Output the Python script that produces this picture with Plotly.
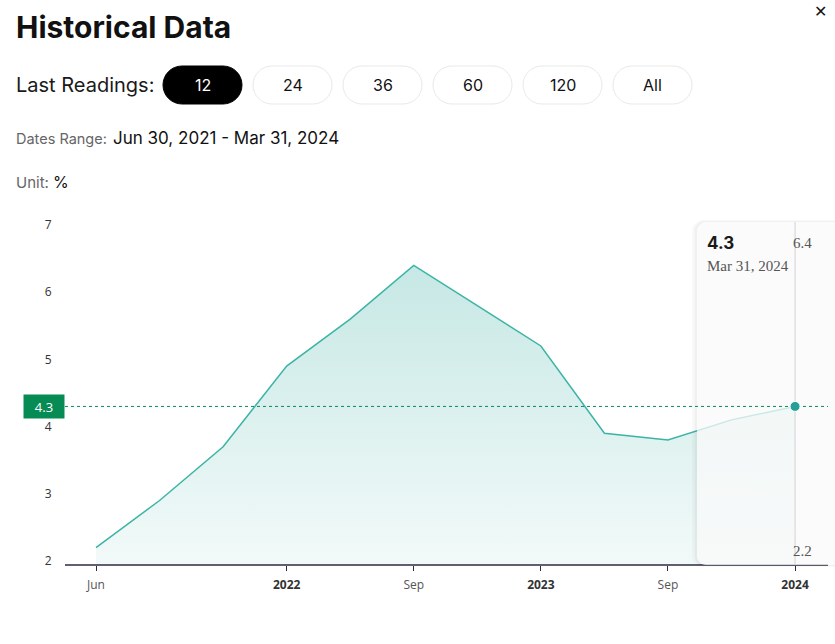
import plotly.graph_objects as go

# ---------------- data ----------------
dates = ["2021-06-30", "2021-09-30", "2021-12-31", "2022-03-31", "2022-06-30", "2022-09-30",
         "2022-12-31", "2023-03-31", "2023-06-30", "2023-09-30", "2023-12-31", "2024-03-31"]
values = [2.2, 2.9, 3.7, 4.9, 5.6, 6.4, 5.8, 5.2, 3.9, 3.8, 4.1, 4.3]
tick_idx = [0, 3, 5, 7, 9, 11]
tick_text = ["Jun", "2022", "Sep", "2023", "Sep", "2024"]
y_ticks = [2, 3, 4, 5, 6, 7]
readings = ["12", "24", "36", "60", "120", "All"]

x = list(range(len(dates)))
last_x, last_y = x[-1], values[-1]

W, H = 835, 644
L, R, T, B = 65, 835, 222, 565


def px(v):
    return (v - L) / (R - L)


def py(v):
    return (B - v) / (B - T)


def rr(x0, y0, x1, y1, r):
    k = 0.5523 * r

    def p(a, b):
        return f"{px(a):.5f},{py(b):.5f}"
    return (f"M{p(x0 + r, y0)} L{p(x1 - r, y0)} "
            f"C{p(x1 - r + k, y0)} {p(x1, y0 + r - k)} {p(x1, y0 + r)} "
            f"L{p(x1, y1 - r)} C{p(x1, y1 - r + k)} {p(x1 - r + k, y1)} {p(x1 - r, y1)} "
            f"L{p(x0 + r, y1)} C{p(x0 + r - k, y1)} {p(x0, y1 - r + k)} {p(x0, y1 - r)} "
            f"L{p(x0, y0 + r)} C{p(x0, y0 + r - k)} {p(x0 + r - k, y0)} {p(x0 + r, y0)} Z")


LINE = "rgb(60,180,165)"
GREEN = "#078b55"
DARK = "#2b2b40"

fig = go.Figure()
fig.add_trace(go.Scatter(
    x=x, y=values, mode="lines",
    line=dict(color=LINE, width=1.5),
    fill="tozeroy",
    fillgradient=dict(type="vertical", start=1.94, stop=max(values),
                      colorscale=[[0, "rgba(38,166,154,0.06)"], [1, "rgba(38,166,154,0.26)"]]),
    hoverinfo="skip", showlegend=False,
))

tick_labels = []
for t in tick_text:
    if t.isdigit():
        tick_labels.append(f"<b><span style='color:#333'>{t}</span></b>")
    else:
        tick_labels.append(f"<span style='color:#555'>{t}</span>")

x0r = -(96 - L) / 63.55
x1r = (R - 96) / 63.55
fig.update_xaxes(
    range=[x0r, x1r], tickvals=tick_idx, ticktext=tick_labels,
    showgrid=False, zeroline=False, showline=False,
    ticks="outside", ticklen=5, tickwidth=1, tickcolor=DARK,
    tickfont=dict(family="Open Sans", size=12, color="#444"),
    ticklabelstandoff=4,
)
fig.update_yaxes(
    range=[1.94, 7.045], tickvals=y_ticks,
    showgrid=False, zeroline=False, showline=False,
    ticks="outside", ticklen=10, tickcolor="rgba(0,0,0,0)",
    tickfont=dict(family="Open Sans", size=12, color="#333"),
)

shapes = []
# x axis line
shapes.append(dict(type="line", xref="paper", yref="paper", x0=0, x1=px(828), y0=0, y1=0,
                   line=dict(color=DARK, width=1.5), layer="above"))
# tooltip box with soft shadow
shapes.append(dict(type="path", xref="paper", yref="paper", path=rr(692, 220, 860, 567, 11),
                   fillcolor="rgba(0,0,0,0.025)", line=dict(width=0), layer="above"))
shapes.append(dict(type="path", xref="paper", yref="paper", path=rr(694.5, 221, 860, 566, 10),
                   fillcolor="rgba(0,0,0,0.035)", line=dict(width=0), layer="above"))
shapes.append(dict(type="path", xref="paper", yref="paper", path=rr(697, 222, 860, 565, 9),
                   fillcolor="rgba(255,255,255,0.74)", line=dict(width=0), layer="above"))
# crosshair
shapes.append(dict(type="line", xref="x", yref="paper", x0=last_x, x1=last_x, y0=0, y1=1,
                   line=dict(color="#d2d2d2", width=1), layer="above"))
# dotted current-value line
shapes.append(dict(type="line", xref="paper", yref="y", x0=0, x1=px(828), y0=last_y, y1=last_y,
                   line=dict(color=GREEN, width=1, dash="dot"), layer="above"))
# dot
shapes.append(dict(type="circle", xref="x", yref="y", xsizemode="pixel", ysizemode="pixel",
                   xanchor=last_x, yanchor=last_y, x0=-5, x1=5, y0=-5, y1=5,
                   fillcolor="rgb(38,160,150)", line=dict(color="white", width=1), layer="above"))

# buttons
for i, lab in enumerate(readings):
    bx0 = 163 + 90 * i
    sel = i == 0
    shapes.append(dict(type="path", xref="paper", yref="paper", path=rr(bx0, 66, bx0 + 79, 104, 19),
                       fillcolor="black" if sel else "white",
                       line=dict(color="black" if sel else "#e9e9e9", width=1), layer="above"))

annotations = []


def txt(t, x_, y_, size, color="#111", family="Inter", anchor="left", bold=False):
    if bold:
        t = f"<b>{t}</b>"
    annotations.append(dict(text=t, xref="paper", yref="paper", x=px(x_), y=py(y_),
                            xanchor=anchor, yanchor="middle", showarrow=False,
                            font=dict(family=family, size=size, color=color)))


txt("Historical Data", 14, 27, 30, "#111", bold=True)
txt("✕", 820, 11, 16, "#111", anchor="center")
txt("Last Readings:", 14, 85, 20, "#1a1a1a")
for i, lab in enumerate(readings):
    bx0 = 163 + 90 * i
    txt(lab, bx0 + 39.5, 85, 16, "white" if i == 0 else "#111", anchor="center")
txt("Dates Range:", 14, 139, 14.5, "#666")
txt("Jun 30, 2021 - Mar 31, 2024", 111, 138, 17, "#111")
txt("Unit:", 14, 183, 15, "#666")
txt("%", 51, 182, 16, "#111")

# tooltip texts
txt(f"{last_y}", 705, 243, 17, "#1a1a1a", bold=True)
txt("Mar 31, 2024", 705, 266, 15, "#555", family="Liberation Serif")
txt(f"{max(values)}", 791, 243, 15, "#555", family="Liberation Serif")
txt(f"{min(values)}", 791, 551, 15, "#555", family="Liberation Serif")

# current value label
annotations.append(dict(text=f"{last_y}", xref="paper", yref="y", x=0, y=last_y,
                        xanchor="right", yanchor="middle", showarrow=False,
                        width=36, height=19, bgcolor=GREEN, borderpad=2,
                        font=dict(family="Open Sans", size=13, color="white")))
shapes.append(dict(type="line", xref="paper", yref="y", x0=px(59), x1=px(63), y0=last_y, y1=last_y,
                   line=dict(color="white", width=1), layer="above"))

fig.update_layout(
    width=W, height=H,
    margin=dict(l=L, r=W - R, t=T, b=H - B),
    paper_bgcolor="white", plot_bgcolor="white",
    shapes=shapes, annotations=annotations,
    hovermode=False, showlegend=False,
)

fig.write_html("out.html")
